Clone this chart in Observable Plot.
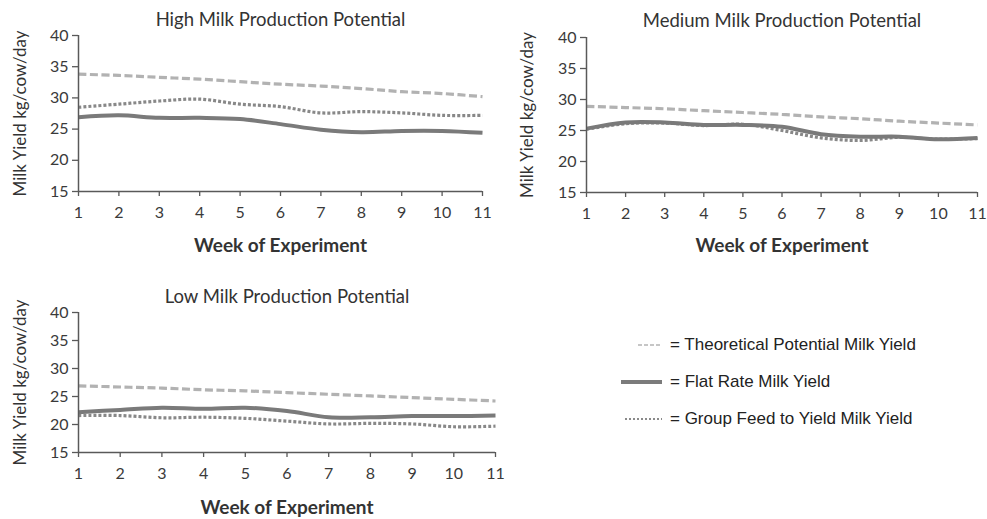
<!DOCTYPE html>
<html>
<head>
<meta charset="utf-8">
<script src="https://cdn.jsdelivr.net/npm/d3@7"></script>
<script src="https://cdn.jsdelivr.net/npm/@observablehq/plot@0.6"></script>
<style>
  html, body { margin: 0; padding: 0; background: #fff; }
  #root { position: relative; width: 987px; height: 519px; overflow: hidden; }
  .panel { position: absolute; }
  #legend { position: absolute; left: 600px; top: 335px; font-family: "Liberation Sans", Arial, sans-serif; font-size: 17px; color: #222; }
  .lg { position: absolute; white-space: nowrap; left: 70px; }
  .lg svg { position: absolute; }
</style>
</head>
<body>
<div id="root"></div>
<script>
const weeks = [1, 2, 3, 4, 5, 6, 7, 8, 9, 10, 11];
const yTicks = [15, 20, 25, 30, 35, 40];
const seriesNames = ["Theoretical Potential Milk Yield", "Flat Rate Milk Yield", "Group Feed to Yield Milk Yield"];
const panelTitles = ["High Milk Production Potential", "Medium Milk Production Potential", "Low Milk Production Potential"];

const highTheoretical = [33.8, 33.6, 33.3, 33.0, 32.6, 32.2, 31.9, 31.5, 31.0, 30.7, 30.2];
const highFlat        = [26.9, 27.2, 26.8, 26.8, 26.6, 25.8, 24.9, 24.5, 24.7, 24.7, 24.4];
const highGroup       = [28.5, 29.0, 29.5, 29.8, 29.0, 28.6, 27.6, 27.8, 27.6, 27.2, 27.2];

const medTheoretical  = [28.9, 28.7, 28.5, 28.2, 27.9, 27.6, 27.2, 26.9, 26.5, 26.2, 25.9];
const medFlat         = [25.3, 26.3, 26.3, 25.9, 25.9, 25.6, 24.4, 24.0, 24.0, 23.6, 23.8];
const medGroup        = [25.2, 26.1, 26.2, 25.8, 26.0, 25.0, 23.8, 23.4, 23.9, 23.6, 23.7];

const lowTheoretical  = [26.9, 26.7, 26.5, 26.2, 26.0, 25.7, 25.4, 25.1, 24.8, 24.5, 24.2];
const lowFlat         = [22.2, 22.6, 23.0, 22.8, 23.0, 22.4, 21.3, 21.3, 21.5, 21.5, 21.6];
const lowGroup        = [21.6, 21.6, 21.2, 21.3, 21.1, 20.6, 20.1, 20.2, 20.1, 19.6, 19.7];

const styles = {
  theo:  {stroke: "#b2b2b2", strokeWidth: 3.2, strokeDasharray: "8,3.5", strokeLinecap: "butt"},
  flat:  {stroke: "#7a7a7a", strokeWidth: 4, strokeLinecap: "butt"},
  group: {stroke: "#888888", strokeWidth: 3.2, strokeDasharray: "3,2", strokeLinecap: "butt"}
};

function panel({title, theo, flat, group, width, height, mt, mb, ml, mr, titleDy, yLabelDx, weekDy}) {
  const rows = s => weeks.map((w, i) => ({week: w, value: s[i]}));
  return Plot.plot({
    width, height,
    marginTop: mt, marginBottom: mb, marginLeft: ml, marginRight: mr,
    style: {fontFamily: "Lato", fontSize: "16px", color: "#3a3a3a", background: "transparent", overflow: "visible"},
    x: {domain: [1, 11]},
    y: {domain: [15, 40]},
    marks: [
      Plot.axisX({ticks: weeks, tickSize: 5, tickPadding: 10, label: null, stroke: "#595959", strokeWidth: 1.3, fontSize: 16, tickFormat: d => d}),
      Plot.axisY({ticks: yTicks, tickSize: 6, tickPadding: 4, label: null, stroke: "#595959", strokeWidth: 1.3, fontSize: 16}),
      Plot.lineY(rows(theo), {x: "week", y: "value", ...styles.theo, curve: "catmull-rom"}),
      Plot.lineY(rows(group), {x: "week", y: "value", ...styles.group, curve: "catmull-rom"}),
      Plot.lineY(rows(flat), {x: "week", y: "value", ...styles.flat, curve: "catmull-rom"}),
      Plot.ruleX([1], {stroke: "#595959", strokeWidth: 1.5}),
      Plot.ruleY([15], {stroke: "#595959", strokeWidth: 1.5}),
      Plot.text([title], {text: d => d, frameAnchor: "top", lineAnchor: "middle", dy: titleDy, fontSize: 18.5, fill: "#333"}),
      Plot.text(["Week of Experiment"], {text: d => d, frameAnchor: "bottom", lineAnchor: "middle", dy: weekDy, fontSize: 19, fontWeight: "bold", fill: "#333"}),
      Plot.text(["Milk Yield kg/cow/day"], {text: d => d, frameAnchor: "left", lineAnchor: "middle", textAnchor: "middle", dx: yLabelDx, rotate: -90, fontSize: 17, fill: "#333"})
    ]
  });
}

const root = document.getElementById("root");
function place(el, left, top) {
  el.classList.add("panel");
  el.style.left = left + "px";
  el.style.top = top + "px";
  root.appendChild(el);
}

place(panel({title: panelTitles[0], theo: highTheoretical, flat: highFlat, group: highGroup,
  width: 500, height: 260, mt: 35, mb: 69, ml: 78, mr: 18, titleDy: -15, yLabelDx: -58, weekDy: 54}), 0, 0);
place(panel({title: panelTitles[1], theo: medTheoretical, flat: medFlat, group: medGroup,
  width: 487, height: 260, mt: 37, mb: 68, ml: 86, mr: 10, titleDy: -16, yLabelDx: -59, weekDy: 53}), 500, 0);
place(panel({title: panelTitles[2], theo: lowTheoretical, flat: lowFlat, group: lowGroup,
  width: 510, height: 239, mt: 32, mb: 67, ml: 78, mr: 15, titleDy: -15, yLabelDx: -58, weekDy: 55}), 0, 280);

// Legend
const legend = document.createElement("div");
legend.id = "legend";
const legendSwatch = [
  {x1: 38, stroke: "#b4b4b4", w: 1.6, dash: "4,2"},
  {x1: 21, stroke: "#7b7b7b", w: 4, dash: null},
  {x1: 25, stroke: "#8a8a8a", w: 2.2, dash: "2,2"}
];
seriesNames.forEach((name, i) => {
  const row = document.createElement("div");
  row.className = "lg";
  row.style.top = (i * 36.8) + "px";
  row.textContent = "= " + name;
  const ns = "http://www.w3.org/2000/svg";
  const svg = document.createElementNS(ns, "svg");
  svg.setAttribute("width", 50); svg.setAttribute("height", 10);
  svg.style.left = "-50px"; svg.style.top = "5px";
  const ln = document.createElementNS(ns, "line");
  const s = legendSwatch[i];
  ln.setAttribute("x1", s.x1 - 20); ln.setAttribute("x2", 42);
  ln.setAttribute("y1", 5); ln.setAttribute("y2", 5);
  ln.setAttribute("stroke", s.stroke); ln.setAttribute("stroke-width", s.w);
  if (s.dash) ln.setAttribute("stroke-dasharray", s.dash);
  svg.appendChild(ln);
  row.appendChild(svg);
  legend.appendChild(row);
});
root.appendChild(legend);
</script>
</body>
</html>
